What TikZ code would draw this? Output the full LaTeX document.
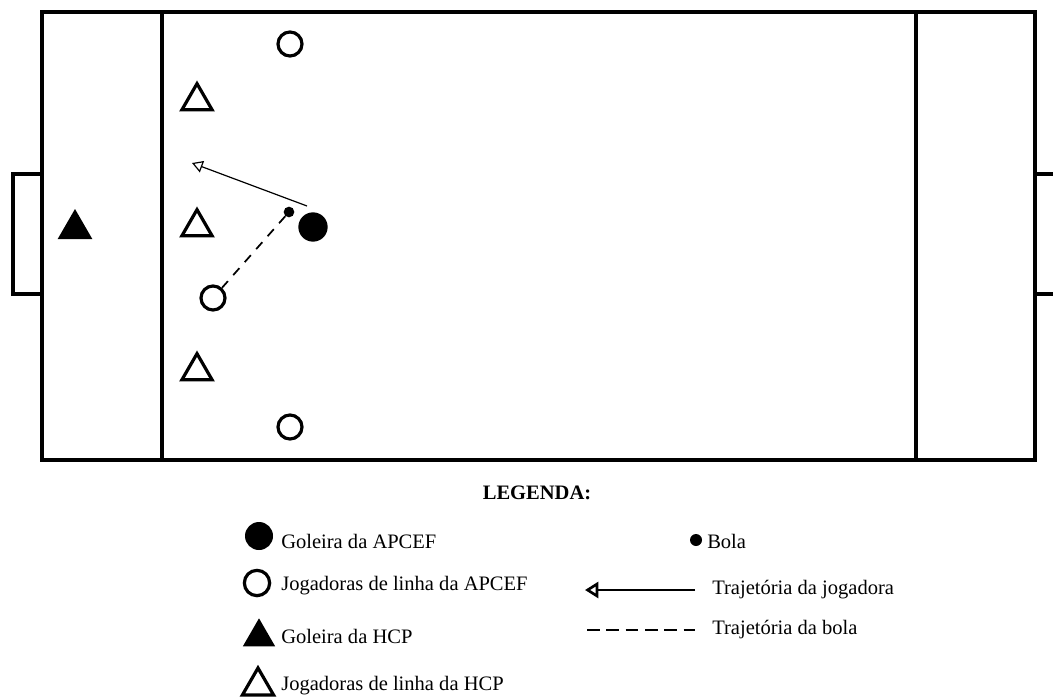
\documentclass[tikz,border=0pt]{standalone}
\usepackage{fontspec}
\setmainfont{Liberation Serif}
\usetikzlibrary{arrows.meta, shapes.geometric, positioning}

\begin{document}
\begin{tikzpicture}[x=0.75pt, y=-0.75pt]
\tikzstyle{linha}=[line width=2.3pt]
\tikzstyle{apcef}=[circle, minimum size=18pt, inner sep=0pt, line width=2.4pt, draw=black]
\tikzstyle{goleira}=[circle, minimum size=22pt, inner sep=0pt, fill=black]
\tikzstyle{hcp}=[regular polygon, regular polygon sides=3, minimum size=26pt, inner sep=0pt, line width=2.4pt, draw=black]
\tikzstyle{goleirahcp}=[regular polygon, regular polygon sides=3, minimum size=30pt, inner sep=0pt, fill=black]
\tikzstyle{bola}=[circle, minimum size=8pt, inner sep=0pt, fill=black]
\tikzstyle{trajjog}=[-{Triangle[open, length=8pt, width=9pt, line width=0.9pt]}, line width=0.9pt]
\tikzstyle{trajbola}=[dash pattern=on 7pt off 6pt, line width=1.3pt]
\tikzstyle{leg}=[anchor=west, inner sep=0pt, font=\fontsize{15.4}{18}\selectfont]
\useasboundingbox (0,0) rectangle (1053,699);

% campo
\draw[linha] (42,12) rectangle (1035,460);
\draw[linha] (162,12) -- (162,460);
\draw[linha] (916,12) -- (916,460);
\draw[linha] (42,174) -- (13,174) -- (13,294) -- (42,294);
\draw[linha] (1035,174) -- (1056,174);
\draw[linha] (1035,294) -- (1056,294);

% jogadoras
\node[goleirahcp] (gh) at (75,229) {};
\node[hcp] (h1) at (197,101) {};
\node[hcp] (h2) at (197,227) {};
\node[hcp] (h3) at (197,371) {};
\node[apcef] (a1) at (290,44) {};
\node[apcef] (a2) at (213,298) {};
\node[apcef] (a3) at (290,427) {};
\node[goleira] (ga) at (313,227) {};
\node[bola] (b) at (289,212) {};

% trajetorias
\coordinate (jog0) at (307,206);
\coordinate (jog1) at (192,163);
\draw[trajjog] (jog0) -- (jog1);
\draw[trajbola] (b) -- (a2);

% legenda
\node[font=\fontsize{15.4}{18}\selectfont\bfseries] (leg) at (537,493) {LEGENDA:};
\node[goleira, minimum size=21pt] (lga) at (259,536) {};
\node[apcef, minimum size=19pt] (la) at (257,583) {};
\node[goleirahcp, minimum size=28pt] (lgh) at (259,637) {};
\node[hcp, minimum size=27pt] (lh) at (258,686) {};
\node[leg] (tga) at (281,541) {Goleira da APCEF};
\node[leg] (ta) at (281,586) {Jogadoras de linha da APCEF};
\node[leg] (tgh) at (281,636) {Goleira da HCP};
\node[leg] (th) at (281,686) {Jogadoras de linha da HCP};

\node[bola, minimum size=9pt] (lb) at (696,540) {};
\node[leg] (tb) at (707,541) {Bola};
\coordinate (lj0) at (695,590);
\coordinate (lj1) at (585,590);
\draw[-{Triangle[open, length=10pt, width=12pt, line width=2pt]}, line width=0.9pt] (lj0) -- (lj1);
\node[leg] (tj) at (712,590) {Trajetória da jogadora};
\coordinate (lbo0) at (587,630);
\coordinate (lbo1) at (695,630);
\draw[dash pattern=on 9.5pt off 5pt, line width=2pt] (lbo0) -- (lbo1);
\node[leg] (tbo) at (712,630) {Trajetória da bola};
\end{tikzpicture}
\end{document}
